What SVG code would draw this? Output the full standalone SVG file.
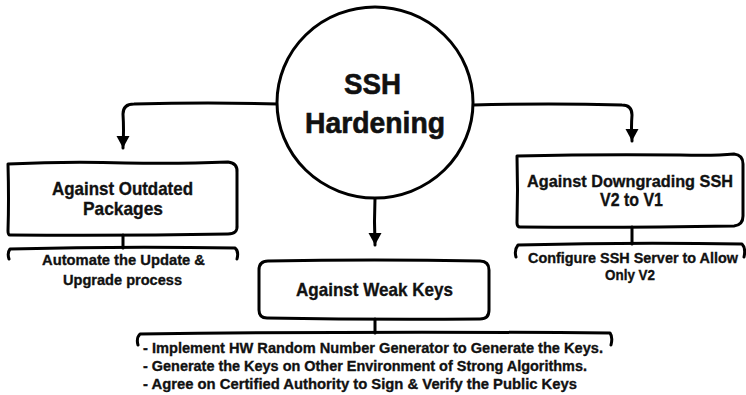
<svg xmlns="http://www.w3.org/2000/svg" width="746" height="395" viewBox="0 0 746 395">
  <style>
    .ink { fill: none; stroke: #000; stroke-width: 3; stroke-linecap: round; stroke-linejoin: round; }
    .box { fill: #fff; stroke: #000; stroke-width: 3; stroke-linejoin: round; }
    .t { font-family: "Liberation Sans", Arial, sans-serif; font-weight: bold; fill: #111; stroke: #111; stroke-width: 0.35; }
    .hub { font-size: 29px; text-anchor: middle; stroke-width: 0.6; }
    .title { font-size: 19px; text-anchor: middle; }
    .wide { font-size: 17px; }
    .note { font-size: 15px; text-anchor: middle; }
    .list { font-size: 15px; }
  </style>
  <defs>
    <marker id="arrow" markerUnits="userSpaceOnUse" markerWidth="14" markerHeight="14" refX="12" refY="6.5" orient="auto">
      <path d="M0,0 L12,6.5 L0,13 Z" fill="#000"/>
    </marker>
  </defs>

  <rect width="746" height="395" fill="#fff"/>

  <!-- connectors from the hub to the three branches -->
  <g id="connectors">
    <path class="ink" d="M278,104 Q210,102 134,104 Q123,104 123,114 Q124,130 123,147 L123,148" marker-end="url(#arrow)"/>
    <path class="ink" d="M473,105 Q550,103 622,105 Q632,105 632,115 Q631,128 632,140 L632,141" marker-end="url(#arrow)"/>
    <path class="ink" d="M375,198 Q374,222 375,244 L375,245" marker-end="url(#arrow)"/>
  </g>

  <!-- hub -->
  <g id="hub">
    <ellipse cx="375" cy="102.5" rx="98" ry="95.5" class="box"/>
    <text class="t hub" x="372.5" y="94" textLength="57" lengthAdjust="spacingAndGlyphs">SSH</text>
    <text class="t hub" x="375" y="133" textLength="140" lengthAdjust="spacingAndGlyphs">Hardening</text>
  </g>

  <!-- left branch -->
  <g id="outdated">
    <path class="box" d="M8,164 Q70,161 125,163 Q180,164 228,162 Q238,163 237,173 L237,225 Q238,234 228,234 Q120,236 10,235 Q8,235 8,231 Q9,200 8,164 Z"/>
    <text class="t title" x="122.5" y="195" textLength="141" lengthAdjust="spacingAndGlyphs">Against Outdated</text>
    <text class="t title" x="123" y="215" textLength="80" lengthAdjust="spacingAndGlyphs">Packages</text>
  </g>
  <g id="outdated-note">
    <path class="ink" d="M123,235 L123,248"/>
    <path class="ink" d="M9,259 Q7,253 10,249 Q120,246 235,248 Q239,251 237,259"/>
    <text class="t note" x="123.5" y="265" textLength="163" lengthAdjust="spacingAndGlyphs">Automate the Update &amp;</text>
    <text class="t note" x="122.5" y="285" textLength="119" lengthAdjust="spacingAndGlyphs">Upgrade process</text>
  </g>

  <!-- right branch -->
  <g id="downgrade">
    <path class="box" d="M517,156 Q600,154 680,155 Q715,156 734,154 Q743,155 743,164 L743,216 Q743,225 734,226 Q620,228 520,227 Q517,227 517,223 Q518,190 517,156 Z"/>
    <text class="t title wide" x="630" y="187" textLength="206" lengthAdjust="spacingAndGlyphs">Against Downgrading SSH</text>
    <text class="t title" x="631.5" y="206" textLength="63" lengthAdjust="spacingAndGlyphs">V2 to V1</text>
  </g>
  <g id="downgrade-note">
    <path class="ink" d="M632,227 L632,244"/>
    <path class="ink" d="M516,257 Q514,250 518,245 Q630,242 742,244 Q746,248 744,257"/>
    <text class="t note" x="633" y="263" textLength="210" lengthAdjust="spacingAndGlyphs">Configure SSH Server to Allow</text>
    <text class="t note" x="630" y="280" textLength="50" lengthAdjust="spacingAndGlyphs">Only V2</text>
  </g>

  <!-- centre branch -->
  <g id="weak-keys">
    <path class="box" d="M268,261 Q375,259 480,261 Q489,261 489,270 L489,310 Q489,319 480,319 Q375,320 267,318 Q259,318 259,310 L259,270 Q259,261 268,261 Z"/>
    <text class="t title" x="374.5" y="296" textLength="157" lengthAdjust="spacingAndGlyphs">Against Weak Keys</text>
  </g>
  <g id="weak-keys-note">
    <path class="ink" d="M375,319 L375,333"/>
    <path class="ink" d="M138,345 Q136,338 140,334 Q375,331 610,333 Q613,337 611,345"/>
    <text class="t list" x="143" y="353" textLength="460" lengthAdjust="spacingAndGlyphs">- Implement HW Random Number Generator to Generate the Keys.</text>
    <text class="t list" x="143" y="371" textLength="444" lengthAdjust="spacingAndGlyphs">- Generate the Keys on Other Environment of Strong Algorithms.</text>
    <text class="t list" x="143" y="389" textLength="434" lengthAdjust="spacingAndGlyphs">- Agree on Certified Authority to Sign &amp; Verify the Public Keys</text>
  </g>
</svg>
